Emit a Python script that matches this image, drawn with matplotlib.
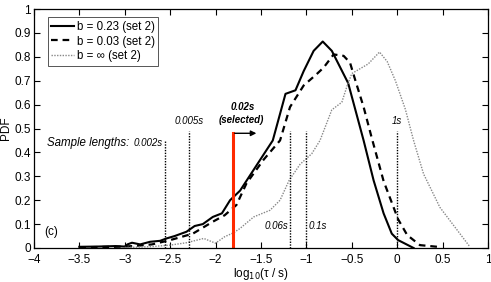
import matplotlib
matplotlib.use("Agg")
import matplotlib.pyplot as plt

plt.rcParams['font.family'] = ['Liberation Sans', 'DejaVu Sans']

# b = 0.23 (set 2)
x_solid = [-3.5, -3.3, -3.1, -3.0, -2.97, -2.92, -2.83, -2.72, -2.61, -2.54, -2.45, -2.32, -2.23,
           -2.14, -2.03, -1.93, -1.84, -1.73, -1.55, -1.37, -1.23, -1.12, -1.03, -0.92, -0.82,
           -0.72, -0.54, -0.37, -0.26, -0.15, -0.06, 0.01, 0.18]
y_solid = [0.005, 0.006, 0.008, 0.006, 0.015, 0.022, 0.015, 0.026, 0.03, 0.04, 0.05, 0.068, 0.092,
           0.1, 0.13, 0.145, 0.2, 0.24, 0.345, 0.45, 0.645, 0.66, 0.74, 0.825, 0.864,
           0.825, 0.69, 0.45, 0.283, 0.145, 0.06, 0.033, 0.0]

# b = 0.03 (set 2)
x_dash = [-3.5, -3.3, -3.1, -2.9, -2.7, -2.5, -2.25, -2.03, -1.9, -1.77, -1.66, -1.47, -1.29,
          -1.18, -1.03, -0.88, -0.81, -0.70, -0.59, -0.52, -0.46, -0.37, -0.28, -0.15, -0.04,
          0.01, 0.11, 0.25, 0.47]
y_dash = [0.003, 0.004, 0.005, 0.008, 0.015, 0.033, 0.06, 0.11, 0.137, 0.18, 0.27, 0.37, 0.45,
          0.59, 0.68, 0.73, 0.755, 0.81, 0.804, 0.776, 0.70, 0.59, 0.46, 0.28, 0.17,
          0.12, 0.054, 0.012, 0.004]

# b = inf (set 2)
x_dot = [-3.0, -2.7, -2.5, -2.32, -2.13, -2.0, -1.9, -1.8, -1.73, -1.58, -1.40, -1.29, -1.19,
         -1.07, -0.94, -0.85, -0.72, -0.61, -0.55, -0.50, -0.32, -0.195, -0.11, -0.02, 0.09,
         0.18, 0.29, 0.47, 0.66, 0.80]
y_dot = [0.002, 0.006, 0.012, 0.022, 0.04, 0.02, 0.047, 0.064, 0.082, 0.13, 0.158, 0.2, 0.283,
         0.35, 0.395, 0.45, 0.578, 0.61, 0.68, 0.73, 0.77, 0.82, 0.78, 0.70, 0.58,
         0.45, 0.31, 0.17, 0.075, 0.005]

# sample length markers
sample_x = [-2.56, -2.29, -1.18, -1.0, 0.0]
sample_top = [0.45, 0.49, 0.49, 0.49, 0.49]
selected_x = -1.81
selected_top = 0.48

fig = plt.figure(figsize=(4.91, 2.82), dpi=100)
ax = fig.add_axes([0.069, 0.1206, 0.925, 0.8474])

ax.plot(x_solid, y_solid, color='black', lw=1.5, ls='-', label='b = 0.23 (set 2)')
ax.plot(x_dash, y_dash, color='black', lw=1.6, ls=(0, (3, 2.2)), label='b = 0.03 (set 2)')
ax.plot(x_dot, y_dot, color='#888888', lw=1.0, ls=(0, (1, 1)), label='b = ∞ (set 2)')

for xv, top in zip(sample_x, sample_top):
    ax.plot([xv, xv], [0, top], color='black', lw=1.0, ls=(0, (1, 1)))
ax.plot([selected_x, selected_x], [0, selected_top], color='#ff2a00', lw=2.2)
ax.annotate('', xy=(selected_x + 0.29, selected_top), xytext=(selected_x - 0.01, selected_top),
            arrowprops=dict(arrowstyle='-|>', color='black', lw=1.0, mutation_scale=8))

fs = 7
ax.text(-2.58, 0.44, '0.002s', ha='right', va='center', style='italic', fontsize=fs)
ax.text(-2.945, 0.44, 'Sample lengths:', ha='right', va='center', style='italic', fontsize=8.3)
ax.text(-2.29, 0.51, '0.005s', ha='center', va='bottom', style='italic', fontsize=fs)
ax.text(-1.70, 0.57, '0.02s', ha='center', va='bottom', style='italic', weight='bold', fontsize=fs)
ax.text(-1.72, 0.515, '(selected)', ha='center', va='bottom', style='italic', weight='bold', fontsize=fs)
ax.text(-1.20, 0.09, '0.06s', ha='right', va='center', style='italic', fontsize=fs)
ax.text(-0.98, 0.09, '0.1s', ha='left', va='center', style='italic', fontsize=fs)
ax.text(0.0, 0.51, '1s', ha='center', va='bottom', style='italic', fontsize=fs)
ax.text(-3.89, 0.065, '(c)', ha='left', va='center', fontsize=8.5)

ax.set_xlim(-4, 1)
ax.set_ylim(0, 1)
ax.set_xticks([-4, -3.5, -3, -2.5, -2, -1.5, -1, -0.5, 0, 0.5, 1])
ax.set_xticklabels(['\u22124', '\u22123.5', '\u22123', '\u22122.5', '\u22122', '\u22121.5',
                    '\u22121', '\u22120.5', '0', '0.5', '1'])
ax.set_yticks([0, 0.1, 0.2, 0.3, 0.4, 0.5, 0.6, 0.7, 0.8, 0.9, 1])
ax.set_yticklabels(['0', '0.1', '0.2', '0.3', '0.4', '0.5', '0.6', '0.7', '0.8', '0.9', '1'])
ax.tick_params(direction='in', top=True, right=True, length=4, width=0.8, labelsize=8.5)
ax.tick_params(axis='x', pad=4)
ax.tick_params(axis='y', pad=2)
for s in ax.spines.values():
    s.set_linewidth(0.9)
ax.set_xlabel('log$_{10}$(\u03c4 / s)', fontsize=8.5, labelpad=0)
ax.set_ylabel('PDF', fontsize=8.5, labelpad=2)

leg = ax.legend(loc='upper left', fontsize=8.3, handlelength=2.0, handletextpad=0.2,
                borderpad=0.3, labelspacing=0.25, fancybox=False, edgecolor='#555555',
                framealpha=1, bbox_to_anchor=(0.018, 0.99))
leg.get_frame().set_linewidth(0.7)

fig.savefig('out.png', dpi=100)
